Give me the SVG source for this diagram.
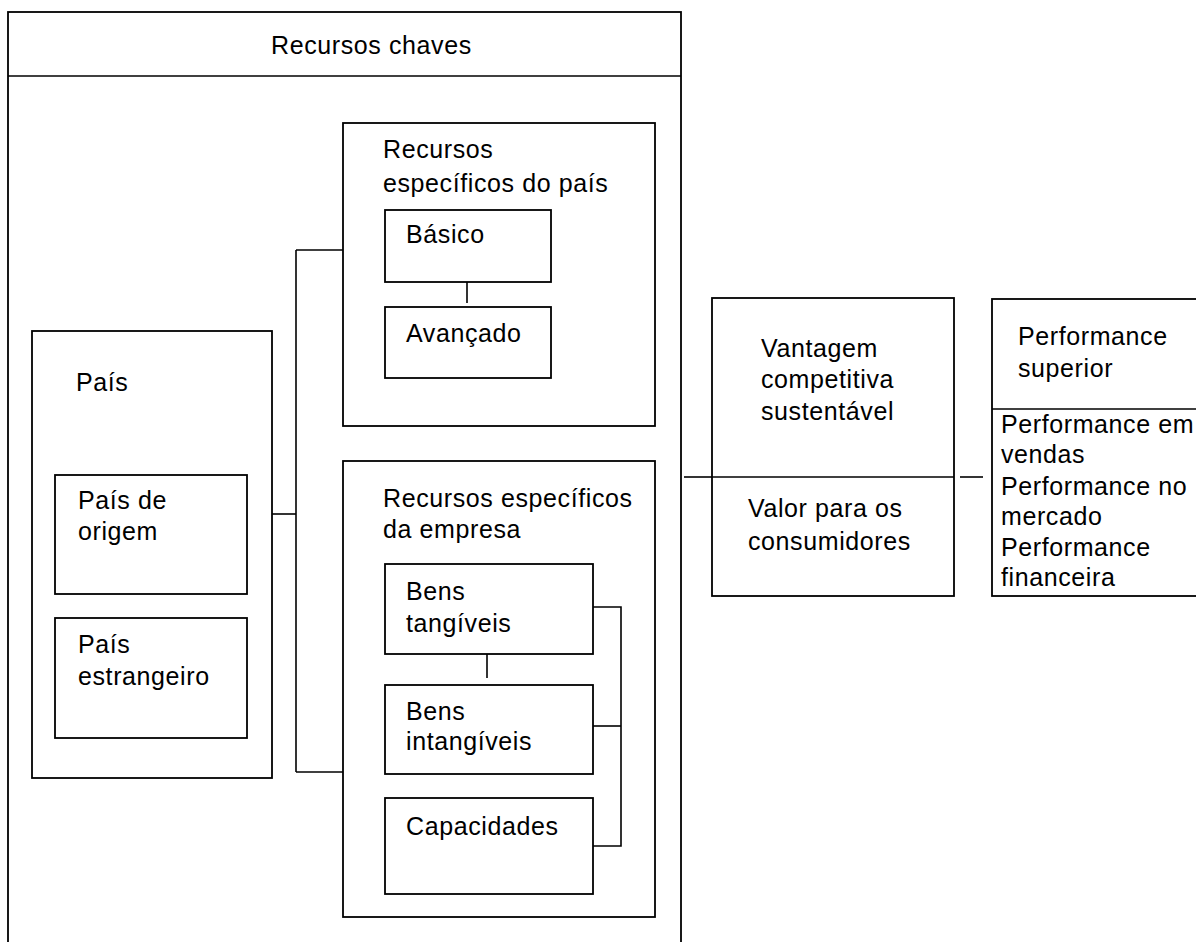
<svg xmlns="http://www.w3.org/2000/svg" width="1196" height="942" viewBox="0 0 1196 942">
  <style>
    .box { fill: #ffffff; stroke: #000000; stroke-width: 1.8; }
    .line { fill: none; stroke: #000000; stroke-width: 1.6; }
    .lbl { font-family: "Liberation Sans", Arial, sans-serif; font-size: 25px; letter-spacing: 0.6px; fill: #000000; }
  </style>
  <rect width="1196" height="942" fill="#ffffff"/>

  <!-- Key resources container -->
  <g id="recursos-chaves">
    <rect class="box" x="8" y="12" width="673" height="950"/>
    <line class="line" x1="8" y1="76" x2="681" y2="76"/>
    <text class="lbl" x="271" y="54">Recursos chaves</text>
  </g>

  <!-- Country -->
  <g id="pais">
    <rect class="box" x="32" y="331" width="240" height="447"/>
    <text class="lbl" x="76" y="391">País</text>
  </g>
  <g id="pais-origem">
    <rect class="box" x="55" y="475" width="192" height="119"/>
    <text class="lbl" x="78" y="509">País de</text>
    <text class="lbl" x="78" y="540">origem</text>
  </g>
  <g id="pais-estrangeiro">
    <rect class="box" x="55" y="618" width="192" height="120"/>
    <text class="lbl" x="78" y="653">País</text>
    <text class="lbl" x="78" y="685">estrangeiro</text>
  </g>

  <!-- Country-specific resources -->
  <g id="recursos-pais">
    <rect class="box" x="343" y="123" width="312" height="303"/>
    <text class="lbl" x="383" y="158">Recursos</text>
    <text class="lbl" x="383" y="192">específicos do país</text>
  </g>
  <g id="basico">
    <rect class="box" x="385" y="210" width="166" height="72"/>
    <text class="lbl" x="406" y="243">Básico</text>
  </g>
  <g id="avancado">
    <rect class="box" x="385" y="307" width="166" height="71"/>
    <text class="lbl" x="406" y="342">Avançado</text>
  </g>

  <!-- Firm-specific resources -->
  <g id="recursos-empresa">
    <rect class="box" x="343" y="461" width="312" height="456"/>
    <text class="lbl" x="383" y="507">Recursos específicos</text>
    <text class="lbl" x="383" y="538">da empresa</text>
  </g>
  <g id="bens-tangiveis">
    <rect class="box" x="385" y="564" width="208" height="90"/>
    <text class="lbl" x="406" y="600">Bens</text>
    <text class="lbl" x="406" y="632">tangíveis</text>
  </g>
  <g id="bens-intangiveis">
    <rect class="box" x="385" y="685" width="208" height="89"/>
    <text class="lbl" x="406" y="720">Bens</text>
    <text class="lbl" x="406" y="750">intangíveis</text>
  </g>
  <g id="capacidades">
    <rect class="box" x="385" y="798" width="208" height="96"/>
    <text class="lbl" x="406" y="835">Capacidades</text>
  </g>

  <!-- Sustainable competitive advantage -->
  <g id="vantagem">
    <rect class="box" x="712" y="298" width="242" height="298"/>
    <line class="line" x1="712" y1="477" x2="954" y2="477"/>
    <text class="lbl" x="761" y="357">Vantagem</text>
    <text class="lbl" x="761" y="388">competitiva</text>
    <text class="lbl" x="761" y="420">sustentável</text>
    <text class="lbl" x="748" y="517">Valor para os</text>
    <text class="lbl" x="748" y="550">consumidores</text>
  </g>

  <!-- Superior performance -->
  <g id="performance">
    <rect class="box" x="992" y="299" width="230" height="297"/>
    <line class="line" x1="992" y1="409" x2="1222" y2="409"/>
    <text class="lbl" x="1018" y="345">Performance</text>
    <text class="lbl" x="1018" y="377">superior</text>
    <text class="lbl" x="1001" y="433">Performance em</text>
    <text class="lbl" x="1001" y="463">vendas</text>
    <text class="lbl" x="1001" y="495">Performance no</text>
    <text class="lbl" x="1001" y="525">mercado</text>
    <text class="lbl" x="1001" y="556">Performance</text>
    <text class="lbl" x="1001" y="586">financeira</text>
  </g>

  <!-- Connectors -->
  <g id="connectors">
    <line class="line" x1="272" y1="514" x2="296" y2="514"/>
    <line class="line" x1="296" y1="250" x2="296" y2="772"/>
    <line class="line" x1="296" y1="250" x2="343" y2="250"/>
    <line class="line" x1="296" y1="772" x2="343" y2="772"/>
    <line class="line" x1="467" y1="282" x2="467" y2="303"/>
    <line class="line" x1="487" y1="654" x2="487" y2="678"/>
    <polyline class="line" points="593,607 621,607 621,846 593,846"/>
    <line class="line" x1="593" y1="726" x2="621" y2="726"/>
    <line class="line" x1="684" y1="477" x2="712" y2="477"/>
    <line class="line" x1="960" y1="477" x2="983" y2="477"/>
  </g>
</svg>
